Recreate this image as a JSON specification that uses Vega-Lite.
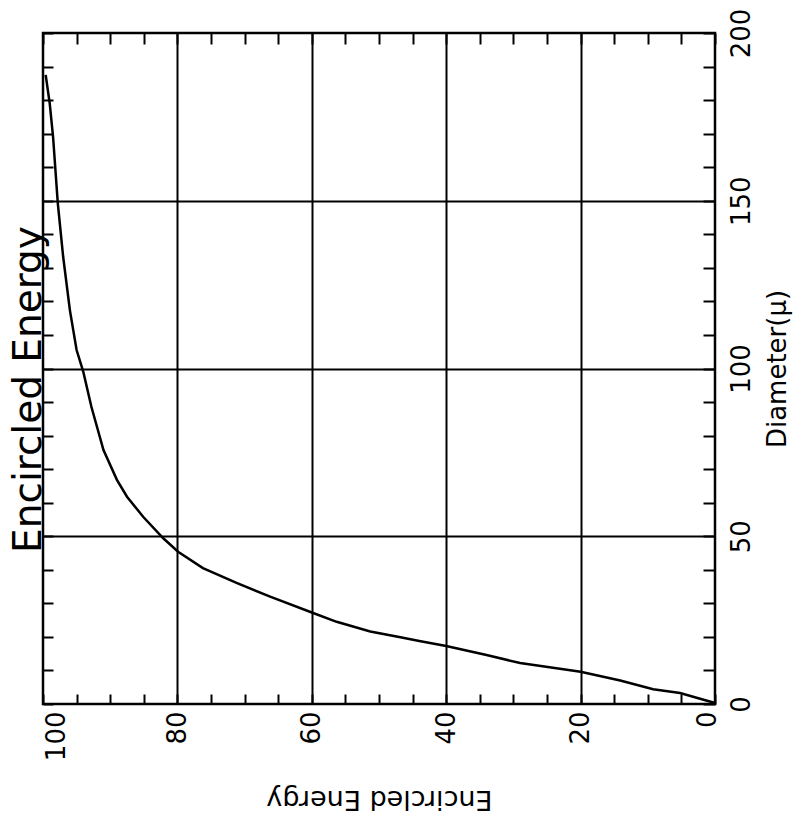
{
  "$schema": "https://vega.github.io/schema/vega-lite/v6.json",
  "width": 672,
  "height": 671,
  "autosize": {"type": "none"},
  "padding": {"left": 43, "top": 33, "right": 84, "bottom": 121},
  "background": "white",
  "title": {"text": "Encircled Energy", "orient": "left", "anchor": "middle", "frame": "group", "font": "DejaVu Sans", "fontSize": 39, "fontWeight": "normal", "color": "black", "baseline": "alphabetic", "offset": -39, "dx": -21},
  "config": {"view": {"stroke": "black", "strokeWidth": 2.5}},
  "data": {"values": [
    {"E": 0, "D": 0.3},
    {"E": 5.2, "D": 3.3},
    {"E": 9.2, "D": 4.4},
    {"E": 14.1, "D": 7.0},
    {"E": 20, "D": 9.6},
    {"E": 29, "D": 12.2},
    {"E": 34, "D": 14.6},
    {"E": 40, "D": 17.3},
    {"E": 44, "D": 18.8},
    {"E": 47, "D": 20.0},
    {"E": 51.3, "D": 21.6},
    {"E": 56.3, "D": 24.5},
    {"E": 59.9, "D": 27.2},
    {"E": 66.2, "D": 32.0},
    {"E": 71.2, "D": 36.1},
    {"E": 76.2, "D": 40.5},
    {"E": 79.9, "D": 45.4},
    {"E": 82.1, "D": 49.4},
    {"E": 85.1, "D": 55.8},
    {"E": 87.5, "D": 61.8},
    {"E": 89.0, "D": 66.8},
    {"E": 91.0, "D": 75.7},
    {"E": 92.8, "D": 88.6},
    {"E": 94.0, "D": 99.0},
    {"E": 95.0, "D": 105.5},
    {"E": 96.0, "D": 117.4},
    {"E": 97.0, "D": 133.3},
    {"E": 97.8, "D": 149.3},
    {"E": 98.5, "D": 169.0},
    {"E": 99.0, "D": 179.0},
    {"E": 99.6, "D": 187.5}
  ]},
  "layer": [
    {
      "mark": {"type": "line", "color": "black", "strokeWidth": 2.5},
      "encoding": {
        "x": {"field": "E", "type": "quantitative",
          "scale": {"domain": [0, 100], "reverse": true, "nice": false, "zero": false},
          "axis": {"orient": "bottom", "values": [0,5,10,15,20,25,30,35,40,45,50,55,60,65,70,75,80,85,90,95,100],
            "tickSize": -10, "tickWidth": 2, "tickColor": "black", "domain": false, "grid": false,
            "labelExpr": "datum.value % 20 === 0 ? datum.label : ''",
            "labelAngle": -90, "labelAlign": "right", "labelBaseline": "middle",
            "labelFont": "DejaVu Sans", "labelFontSize": 26, "labelColor": "black", "labelPadding": 17,
            "labelOffset": {"condition": [{"test": "datum.value === 100", "value": 13}, {"test": "datum.value === 0", "value": -8}], "value": 0},
            "labelOverlap": false, "labelBound": false,
            "title": "Encircled Energy", "titleAngle": 180, "titleBaseline": "bottom", "titleAlign": "center",
            "titleFont": "DejaVu Sans", "titleFontSize": 27, "titleFontWeight": "normal", "titleColor": "black", "titlePadding": 24}},
        "y": {"field": "D", "type": "quantitative",
          "scale": {"domain": [0, 200], "nice": false},
          "axis": {"orient": "right", "values": [0,10,20,30,40,50,60,70,80,90,100,110,120,130,140,150,160,170,180,190,200],
            "tickSize": -12, "tickWidth": 2, "tickColor": "black", "domain": false, "grid": false,
            "labelExpr": "datum.value % 50 === 0 ? datum.label : ''",
            "labelAngle": -90, "labelAlign": "center", "labelBaseline": "top",
            "labelFont": "DejaVu Sans", "labelFontSize": 26, "labelColor": "black", "labelPadding": 25,
            "labelOverlap": false, "labelBound": false,
            "title": "Diameter(μ)", "titleAngle": -90, "titleBaseline": "top", "titleAlign": "center",
            "titleFont": "DejaVu Sans", "titleFontSize": 26, "titleFontWeight": "normal", "titleColor": "black", "titlePadding": 10}},
        "order": {"field": "D", "type": "quantitative"}
      }
    },
    {
      "mark": {"type": "line", "opacity": 0},
      "encoding": {
        "x": {"field": "E", "type": "quantitative",
          "axis": {"orient": "top", "values": [0,5,10,15,20,25,30,35,40,45,50,55,60,65,70,75,80,85,90,95,100],
            "tickSize": -11, "tickWidth": 2, "tickColor": "black", "domain": false, "grid": false, "labels": false, "title": null}},
        "y": {"field": "D", "type": "quantitative",
          "axis": {"orient": "left", "values": [0,10,20,30,40,50,60,70,80,90,100,110,120,130,140,150,160,170,180,190,200],
            "tickSize": -10, "tickWidth": 2, "tickColor": "black", "domain": false, "grid": false, "labels": false, "title": null}},
        "order": {"field": "D", "type": "quantitative"}
      }
    },
    {
      "mark": {"type": "line", "opacity": 0},
      "encoding": {
        "x": {"field": "E", "type": "quantitative",
          "axis": {"orient": "top", "values": [20, 40, 60, 80], "grid": true, "gridColor": "black", "gridWidth": 2, "gridOpacity": 1,
            "ticks": false, "domain": false, "labels": false, "title": null}},
        "y": {"field": "D", "type": "quantitative",
          "axis": {"orient": "left", "values": [50, 100, 150], "grid": true, "gridColor": "black", "gridWidth": 2, "gridOpacity": 1,
            "ticks": false, "domain": false, "labels": false, "title": null}},
        "order": {"field": "D", "type": "quantitative"}
      }
    }
  ]
}
